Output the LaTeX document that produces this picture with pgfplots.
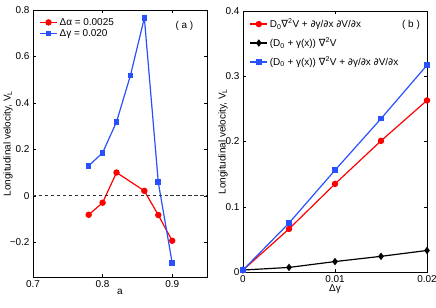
\documentclass[border=0pt]{standalone}
\usepackage{pgfplots}
\pgfplotsset{compat=1.18}
\usepackage{fontspec}
\setmainfont{Liberation Sans}
\newfontfamily\dejavu{DejaVu Sans}
\newcommand{\nab}{{\dejavu ∇}}
\newcommand{\pd}{{\dejavu ∂}}
\definecolor{mred}{RGB}{255,0,0}
\definecolor{mblue}{RGB}{40,80,255}
\begin{document}
\begin{tikzpicture}
\path[use as bounding box] (-33bp,-31bp) rectangle (403bp,277bp);
\pgfplotsset{every axis/.append style={
  scale only axis,
  font=\fontsize{10}{11}\selectfont,
  tick align=inside,
  major tick length=3pt,
  /pgf/number format/assume math mode=true,
  axis line style={black, line width=0.4pt},
  tick style={black, line width=0.4pt},
  legend cell align=left,
  legend style={draw=none, fill=none, font=\fontsize{10}{11}\selectfont, inner xsep=1pt},
  scaled ticks=false,
  xlabel style={yshift=5pt},
}}
\begin{axis}[
  at={(0bp,0bp)}, anchor=south west,
  width=174bp, height=267bp,
  xmin=0.7, xmax=0.95, ymin=-0.35, ymax=0.8,
  xtick={0.7,0.8,0.9}, xticklabels={0.7,0.8,0.9},
  ytick={-0.2,0,0.2,0.4,0.6,0.8}, yticklabels={−0.2,0,0.2,0.4,0.6,0.8},
  xlabel={a}, ylabel={Longitudinal velocity, V\textsubscript{L}},
  ylabel style={at={(axis description cs:0,0.5)}, yshift=25bp, anchor=center},
  legend style={at={(0.03,0.985)}, anchor=north west, row sep=-1.5pt},
]
\addplot[mred, line width=1.2pt, mark=*, mark size=2.6pt] coordinates {
  (0.78,-0.082) (0.80,-0.030) (0.82,0.100) (0.86,0.021) (0.88,-0.083) (0.90,-0.194)};
\addlegendentry{Δα = 0.0025}
\addplot[mblue, line width=1.2pt, mark=square*, mark size=2.2pt] coordinates {
  (0.78,0.129) (0.80,0.185) (0.82,0.318) (0.84,0.518) (0.86,0.766) (0.88,0.058) (0.90,-0.290)};
\addlegendentry{Δγ = 0.020}
\addplot[gray!40!black, line width=1.5pt, dash pattern=on 3.5pt off 2.5pt, forget plot] coordinates {(0.7,0) (0.95,0)};
\node at (rel axis cs:0.87,0.94) {( a )};
\end{axis}
\begin{axis}[
  at={(210bp,5bp)}, anchor=south west,
  width=184bp, height=261bp,
  xmin=0, xmax=0.02, ymin=0, ymax=0.4,
  xtick={0,0.01,0.02}, xticklabels={0,0.01,0.02},
  ytick={0,0.1,0.2,0.3,0.4}, yticklabels={0,0.1,0.2,0.3,0.4},
  xlabel={Δγ}, ylabel={Longitudinal velocity, V\textsubscript{L}},
  ylabel style={at={(axis description cs:0,0.5)}, yshift=20bp, anchor=center},
  legend style={at={(0.03,0.985)}, anchor=north west, row sep=5pt},
]
\addplot[mred, line width=1.2pt, mark=*, mark size=2.6pt] coordinates {
  (0,0.003) (0.005,0.066) (0.01,0.135) (0.015,0.201) (0.02,0.263)};
\addlegendentry{D\textsubscript{0}\nab\textsuperscript{2}V + \pd γ/\pd x \pd V/\pd x}
\addplot[black, line width=1.2pt, mark=diamond*, mark size=2.8pt] coordinates {
  (0,0.003) (0.005,0.007) (0.01,0.016) (0.015,0.024) (0.02,0.033)};
\addlegendentry{(D\textsubscript{0} + γ(x)) \nab\textsuperscript{2}V}
\addplot[mblue, line width=1.2pt, mark=square*, mark size=2.2pt] coordinates {
  (0,0.003) (0.005,0.075) (0.01,0.156) (0.015,0.235) (0.02,0.317)};
\addlegendentry{(D\textsubscript{0} + γ(x)) \nab\textsuperscript{2}V + \pd γ/\pd x \pd V/\pd x}
\node at (rel axis cs:0.913,0.946) {( b )};
\end{axis}
\end{tikzpicture}
\end{document}
